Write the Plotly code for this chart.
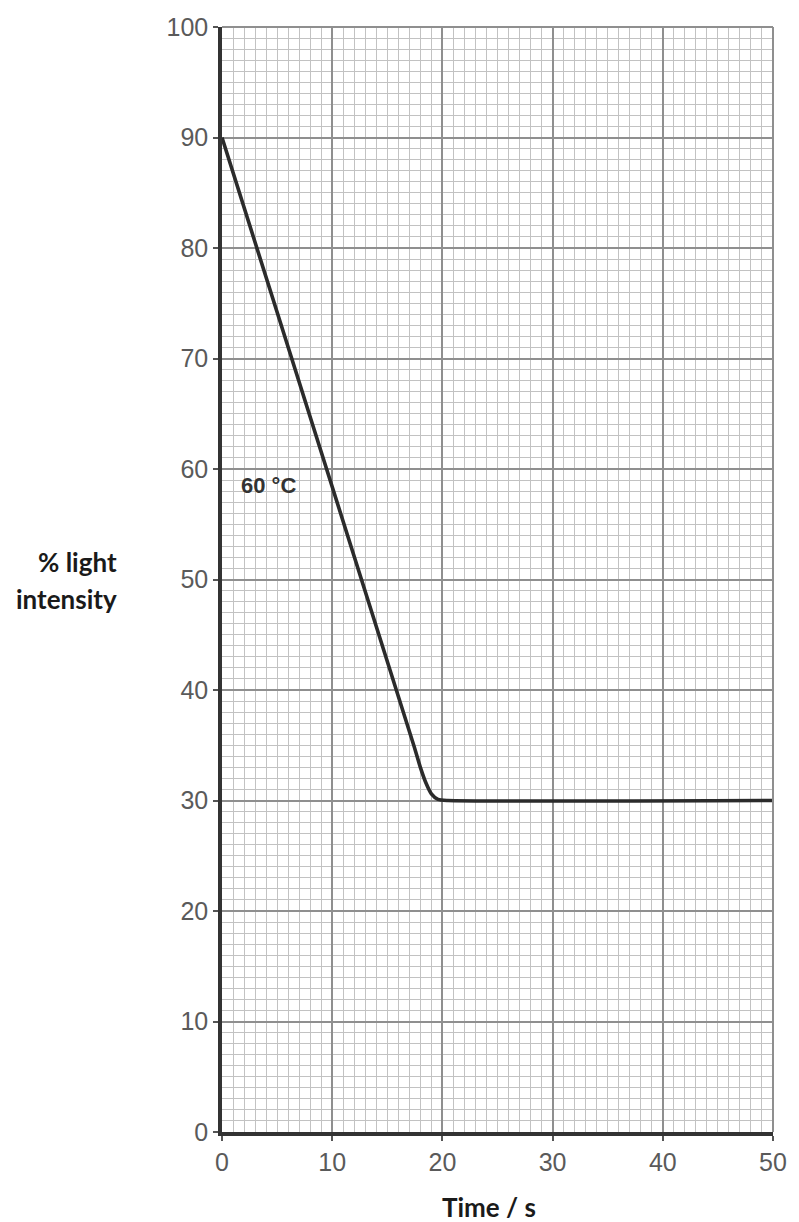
import plotly.graph_objects as go

# Light intensity readings at 60 °C
time_s = [0, 17.4, 18.0, 18.5, 19.0, 19.6, 20.5, 50]
light_pct = [90, 35.0, 33.0, 31.6, 30.6, 30.1, 30.0, 30.0]

x_ticks = [0, 10, 20, 30, 40, 50]
y_ticks = [0, 10, 20, 30, 40, 50, 60, 70, 80, 90, 100]

curve_label = "60 °C"
x_title = "Time / s"
y_title_lines = ["% light", "intensity"]

tick_font = dict(family="Liberation Sans, Arial, sans-serif", size=25, color="#5a5a5a")
title_font = dict(family="Lato, Open Sans, sans-serif", size=26, color="#1a1a1a")

fig = go.Figure()
fig.add_trace(go.Scatter(
    x=time_s, y=light_pct, mode="lines",
    line=dict(color="#2b2b2b", width=3.6, shape="spline", smoothing=0.6),
    hoverinfo="skip", showlegend=False,
))

axis_common = dict(
    showgrid=True, gridcolor="#8f8f8f", gridwidth=2,
    zeroline=False,
    showline=True, linecolor="#333333", linewidth=3.5,
    ticks="outside", ticklen=5, tickwidth=1.5, tickcolor="#555555",
    tickfont=tick_font,
    minor=dict(dtick=1, showgrid=True, gridcolor="#c2c2c2", gridwidth=1.2, ticks=""),
    fixedrange=True,
)

fig.update_xaxes(range=[0, 50], tickvals=x_ticks, ticktext=[str(v) for v in x_ticks],
                 **axis_common)
fig.update_yaxes(range=[0, 100], tickvals=y_ticks, ticktext=[str(v) for v in y_ticks],
                 **axis_common)

# Grey frame on the top and right edges of the grid
fig.add_shape(type="line", xref="paper", yref="paper", x0=0, x1=1, y0=1, y1=1,
              line=dict(color="#8f8f8f", width=2))
fig.add_shape(type="line", xref="paper", yref="paper", x0=1, x1=1, y0=0, y1=1,
              line=dict(color="#8f8f8f", width=2))

fig.add_annotation(x=1.5, y=58.5, xref="x", yref="y", text=f"<b>{curve_label}</b>",
                   showarrow=False, xanchor="left", yanchor="middle",
                   font=dict(family="Liberation Sans, Arial, sans-serif", size=22, color="#333333"))

fig.add_annotation(x=0.485, y=-0.068, xref="paper", yref="paper", text=f"<b>{x_title}</b>",
                   showarrow=False, xanchor="center", yanchor="middle", font=title_font)
fig.add_annotation(x=-0.187, y=0.516, xref="paper", yref="paper",
                   text=f"<b>{y_title_lines[0]}</b>", showarrow=False,
                   xanchor="right", yanchor="middle", font=title_font)
fig.add_annotation(x=-0.187, y=0.482, xref="paper", yref="paper",
                   text=f"<b>{y_title_lines[1]}</b>", showarrow=False,
                   xanchor="right", yanchor="middle", font=title_font)

fig.update_layout(
    width=799, height=1222,
    margin=dict(l=222, r=22, t=27, b=90),
    paper_bgcolor="white", plot_bgcolor="white",
)

fig.write_html("out.html")
